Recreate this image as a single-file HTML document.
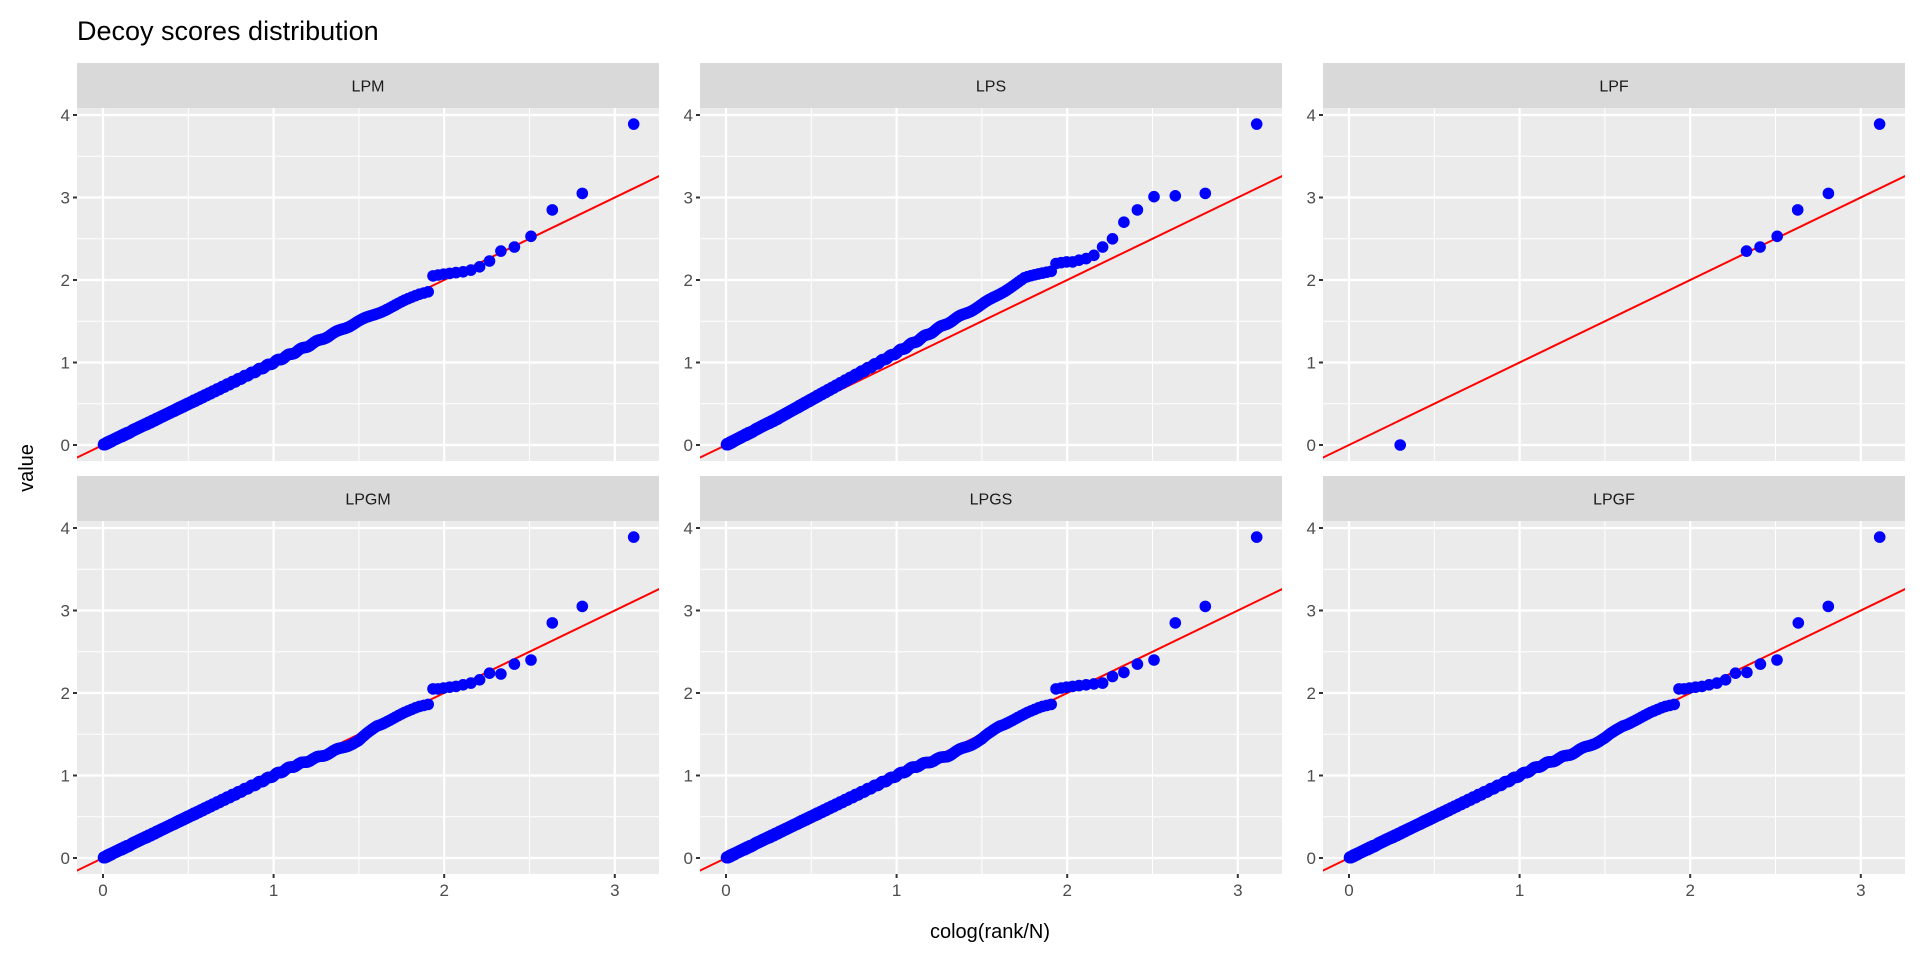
<!DOCTYPE html>
<html><head><meta charset="utf-8"><style>
body{margin:0;background:#fff;}
svg{display:block;font-family:"Liberation Sans",sans-serif;}
</style></head><body>
<svg id="s" width="1920" height="960" xmlns="http://www.w3.org/2000/svg">
<text x="77" y="40" font-size="27" fill="#000">Decoy scores distribution</text>
<text x="990" y="938" font-size="20" fill="#000" text-anchor="middle">colog(rank/N)</text>
<text transform="translate(33,468) rotate(-90)" font-size="20" fill="#000" text-anchor="middle">value</text>
</svg>
<script>
const S=document.getElementById('s');const NS='http://www.w3.org/2000/svg';
function el(t,a,txt){const e=document.createElementNS(NS,t);for(const k in a)e.setAttribute(k,a[k]);if(txt!==undefined)e.textContent=txt;S.appendChild(e);return e;}
const cols=[77,700,1323],W=582;
const rows=[{st:63,pt:108,pb:461,y0:445},{st:476,pt:521,pb:874,y0:858}];
const XU=170.6,YU=82.5;
const N=1290;
function interp(pts,x){if(x<=pts[0][0])return pts[0][1];for(let i=1;i<pts.length;i++){if(x<=pts[i][0]){const a=pts[i-1],b=pts[i];return a[1]+(b[1]-a[1])*(x-a[0])/(b[0]-a[0]);}}return pts[pts.length-1][1];}
const panels=[
{n:'LPM',top:[3.89,3.05,2.85,2.53,2.40,2.35,2.23,2.16,2.12,2.10,2.09,2.08,2.07,2.06,2.05],off:[[0,0],[1.5,0],[1.85,-0.03],[1.96,-0.06]]},
{n:'LPS',top:[3.89,3.05,3.02,3.01,2.85,2.70,2.50,2.40,2.30,2.26,2.24,2.22,2.22,2.21,2.20],off:[[0,0],[0.3,0.02],[0.5,0.05],[1,0.12],[1.3,0.18],[1.5,0.2],[1.75,0.27],[1.96,0.18]]},
{n:'LPF',pts:[[0.30,0],[2.33,2.35],[2.41,2.40],[2.51,2.53],[2.63,2.85],[2.81,3.05],[3.11,3.89]]},
{n:'LPGM',top:[3.89,3.05,2.85,2.40,2.35,2.23,2.24,2.16,2.12,2.10,2.08,2.07,2.06,2.05,2.05],off:[[0,0],[1.1,0],[1.3,-0.05],[1.5,-0.08],[1.6,0],[1.85,-0.02],[1.96,-0.06]]},
{n:'LPGS',top:[3.89,3.05,2.85,2.40,2.35,2.25,2.20,2.12,2.11,2.10,2.09,2.08,2.07,2.06,2.05],off:[[0,0],[1.1,0],[1.3,-0.06],[1.5,-0.06],[1.6,0],[1.85,-0.02],[1.96,-0.06]]},
{n:'LPGF',top:[3.89,3.05,2.85,2.40,2.35,2.25,2.24,2.16,2.12,2.10,2.08,2.07,2.06,2.05,2.05],off:[[0,0],[1.1,0],[1.3,-0.04],[1.5,-0.05],[1.6,0],[1.85,-0.02],[1.96,-0.06]]}
];
panels.forEach((p,k)=>{
 const r=rows[Math.floor(k/3)],L=cols[k%3];const x0=L+26;
 const X=v=>x0+v*XU,Y=v=>r.y0-v*YU;
 el('rect',{x:L,y:r.st,width:W,height:r.pt-r.st,fill:'#d9d9d9'});
 el('text',{x:L+W/2,y:(r.st+r.pt)/2+6,'font-size':16,fill:'#1a1a1a','text-anchor':'middle'},p.n);
 el('rect',{x:L,y:r.pt,width:W,height:r.pb-r.pt,fill:'#ebebeb'});
 const cp=`c${k}`;const cl=el('clipPath',{id:cp});const cr=document.createElementNS(NS,'rect');cr.setAttribute('x',L);cr.setAttribute('y',r.pt);cr.setAttribute('width',W);cr.setAttribute('height',r.pb-r.pt);cl.appendChild(cr);
 const g=el('g',{'clip-path':`url(#${cp})`});
 function ln(a){const e=document.createElementNS(NS,'line');for(const q in a)e.setAttribute(q,a[q]);g.appendChild(e);}
 [0.5,1.5,2.5,3.5].forEach(v=>{ln({x1:L,x2:L+W,y1:Y(v),y2:Y(v),stroke:'#fff','stroke-width':1});});
 [0.5,1.5,2.5].forEach(v=>{ln({x1:X(v),x2:X(v),y1:r.pt,y2:r.pb,stroke:'#fff','stroke-width':1});});
 [0,1,2,3,4].forEach(v=>{ln({x1:L,x2:L+W,y1:Y(v),y2:Y(v),stroke:'#fff','stroke-width':2.2});});
 [0,1,2,3].forEach(v=>{ln({x1:X(v),x2:X(v),y1:r.pt,y2:r.pb,stroke:'#fff','stroke-width':2.2});});
 ln({x1:X(-0.3),y1:Y(-0.3),x2:X(4),y2:Y(4),stroke:'#ff0000','stroke-width':2});
 let pts=[];
 if(p.pts)pts=p.pts;else{
  for(let i=1;i<=N;i++){const x=-Math.log10(i/N);let y;
   if(i<=p.top.length)y=p.top[i-1];else{y=x+interp(p.off,x)+0.01*Math.sin(i*0.37);if(y<0)y=0;}
   pts.push([x,y]);}
 }
 let lx=-99,ly=-99;
 pts.forEach(([x,y])=>{const px=X(x),py=Y(y);if(Math.abs(px-lx)<0.6&&Math.abs(py-ly)<0.6)return;lx=px;ly=py;
  const c=document.createElementNS(NS,'circle');c.setAttribute('cx',px.toFixed(1));c.setAttribute('cy',py.toFixed(1));c.setAttribute('r',5.8);c.setAttribute('fill','#0000ff');g.appendChild(c);});
 [0,1,2,3,4].forEach(v=>{el('line',{x1:L-4,x2:L,y1:Y(v),y2:Y(v),stroke:'#333','stroke-width':2});
  el('text',{x:L-7,y:Y(v)+6,'font-size':17,fill:'#4d4d4d','text-anchor':'end'},v);});
 if(k>=3)[0,1,2,3].forEach(v=>{el('line',{x1:X(v),x2:X(v),y1:r.pb,y2:r.pb+4,stroke:'#333','stroke-width':2});
  el('text',{x:X(v),y:r.pb+22,'font-size':17,fill:'#4d4d4d','text-anchor':'middle'},v);});
});
</script>
</body></html>
